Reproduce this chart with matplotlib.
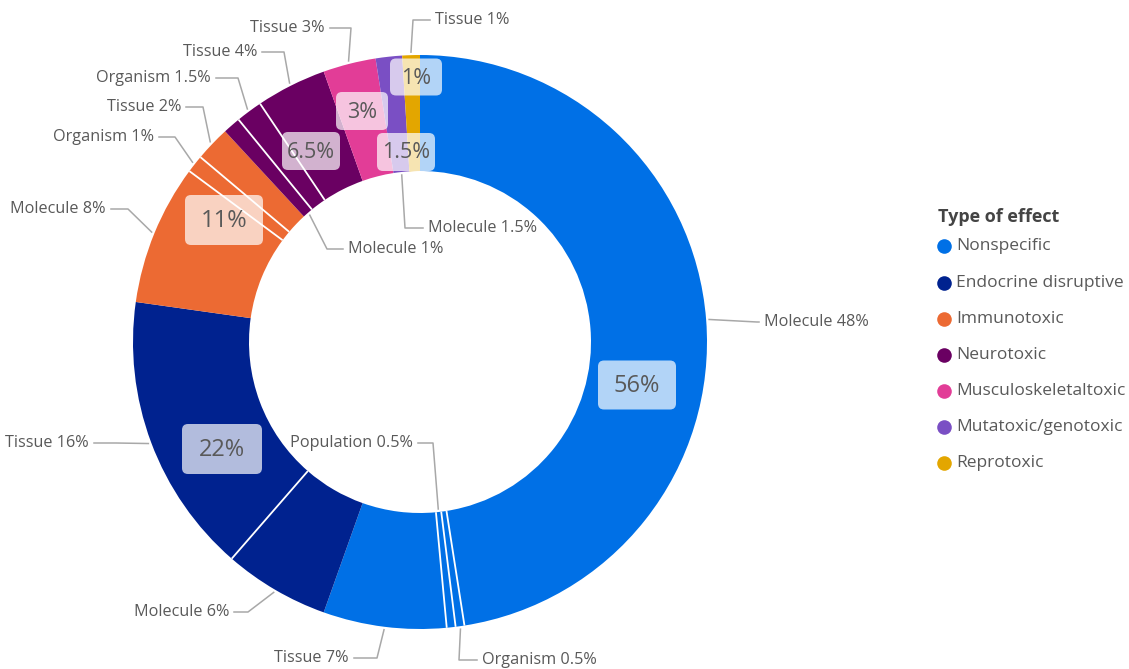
import numpy as np
import matplotlib
matplotlib.use("Agg")
import matplotlib.pyplot as plt
from matplotlib.patches import FancyBboxPatch

# ---------------- data ----------------
groups = ["Nonspecific", "Endocrine disruptive", "Immunotoxic", "Neurotoxic",
          "Musculoskeletaltoxic", "Mutatoxic/genotoxic", "Reprotoxic"]
group_totals = ["56%", "22%", "11%", "6.5%", "3%", "1.5%", "1%"]
group_colors = ["#0070E6", "#00228F", "#EC6A33", "#6A0062",
                "#E23D97", "#7A4FC4", "#E3A600"]

sub_group = [0, 0, 0, 0, 1, 1, 2, 2, 2, 3, 3, 3, 4, 5, 6]
sub_names = ["Molecule", "Organism", "Population", "Tissue",
             "Molecule", "Tissue",
             "Molecule", "Organism", "Tissue",
             "Molecule", "Organism", "Tissue",
             "Tissue", "Molecule", "Tissue"]
sub_values = [48, 0.5, 0.5, 7,
              6, 16,
              8, 1, 2,
              1, 1.5, 4,
              3, 1.5, 1]
sub_labels = ["48%", "0.5%", "0.5%", "7%", "6%", "16%", "8%", "1%", "2%",
              "1%", "1.5%", "4%", "3%", "1.5%", "1%"]

# ---------------- layout ----------------
W, H = 1129, 669
CX, CY = 420, 342
R_OUT, R_IN = 287, 171
FONT = "Open Sans"
TXT = "#595959"
LINE = "#a8a8a8"

def P(x, y):
    return (x, H - y)

# leader labels: (text x, text y, ha, elbow x, anchor on inner edge?)
leader_layout = [
    (764, 322, "left", 757, False),   # Molecule 48%
    (482, 660, "left", 459, False),   # Organism 0.5%
    (413, 443, "right", 433, True),   # Population 0.5%
    (349, 658, "right", 377, False),  # Tissue 7%
    (229, 612, "right", 248, False),  # Molecule 6%
    (89, 443, "right", 116, False),   # Tissue 16%
    (106, 209, "right", 128, False),  # Molecule 8%
    (154, 137, "right", 175, False),  # Organism 1%
    (181, 107, "right", 203, False),  # Tissue 2%
    (348, 249, "left", 327, True),    # Molecule 1%
    (211, 78, "right", 238, False),   # Organism 1.5%
    (257, 52, "right", 284, False),   # Tissue 4%
    (325, 28, "right", 351, False),   # Tissue 3%
    (428, 228, "left", 405, True),    # Molecule 1.5%
    (435, 20, "left", 413, False),    # Tissue 1%
]

# group total boxes: (center x, center y, box w, box h, fontsize)
box_layout = [
    (637, 385, 78, 49, 17),
    (222, 449, 80, 50, 17),
    (224, 220, 78, 50, 17),
    (311, 151, 58, 38, 15.5),
    (362, 111, 52, 38, 15.5),
    (406, 152, 58, 38, 15.5),
    (416, 77, 52, 37, 15.5),
]

legend_x, legend_title_y = 938, 217
legend_rows = [246, 283, 319, 355, 391, 427, 463]

# ---------------- figure ----------------
fig = plt.figure(figsize=(W / 100, H / 100), dpi=100)
ax = fig.add_axes([0, 0, 1, 1])
ax.set_xlim(0, W)
ax.set_ylim(0, H)
ax.axis("off")

colors = [group_colors[g] for g in sub_group]
wedges, _ = ax.pie(sub_values, colors=colors, startangle=90, counterclock=False,
                   radius=R_OUT, center=P(CX, CY),
                   wedgeprops=dict(width=R_OUT - R_IN, linewidth=0))
ax.set_xlim(0, W)
ax.set_ylim(0, H)
ax.set_aspect("equal")

cx, cy = P(CX, CY)

def polar(theta_deg, r):
    t = np.deg2rad(theta_deg)
    return cx + r * np.cos(t), cy + r * np.sin(t)

# white separators between sub-segments of the same group
for i in range(len(wedges) - 1):
    if sub_group[i] == sub_group[i + 1]:
        ang = wedges[i].theta1  # clockwise: theta1 is the end side
        x0, y0 = polar(ang, R_IN)
        x1, y1 = polar(ang, R_OUT)
        ax.plot([x0, x1], [y0, y1], color="white", lw=1.3, solid_capstyle="butt", zorder=3)

# leader labels
for i, w in enumerate(wedges):
    tx, ty, ha, ex, inner = leader_layout[i]
    mid = 0.5 * (w.theta1 + w.theta2)
    ax_, ay_ = polar(mid, R_IN - 3 if inner else R_OUT + 3)
    tX, tY = P(tx, ty)
    gap = 5 if ha == "left" else -5
    ax.plot([ax_, ex, tx - gap], [ay_, tY, tY], color=LINE, lw=1.1, zorder=4)
    ax.text(tx, tY, f"{sub_names[i]} {sub_labels[i]}", ha=ha, va="center",
            fontsize=11.7, color=TXT, family=FONT, zorder=5)

# group total boxes
for g, (bx, by, bw, bh, fs) in enumerate(box_layout):
    X, Y = P(bx, by)
    box = FancyBboxPatch((X - bw / 2 + 6, Y - bh / 2 + 6), bw - 12, bh - 12,
                         boxstyle="round,pad=6", facecolor="white", alpha=0.7,
                         edgecolor="none", zorder=6)
    ax.add_patch(box)
    ax.text(X, Y - 1, group_totals[g], ha="center", va="center", fontsize=fs,
            color=TXT, family=FONT, zorder=7)

# legend
ax.text(legend_x, H - legend_title_y, "Type of effect", ha="left", va="center",
        fontsize=13, fontweight="bold", color="#444444", family=FONT)
for g, row in enumerate(legend_rows):
    ax.plot([legend_x + 6], [H - row], marker="o", markersize=10.5,
            markeredgewidth=0, color=group_colors[g], linestyle="none", zorder=5)
    ax.text(legend_x + 18, H - row, groups[g], ha="left", va="center",
            fontsize=12.5, color=TXT, family=FONT)

fig.savefig("out.png", dpi=100)
